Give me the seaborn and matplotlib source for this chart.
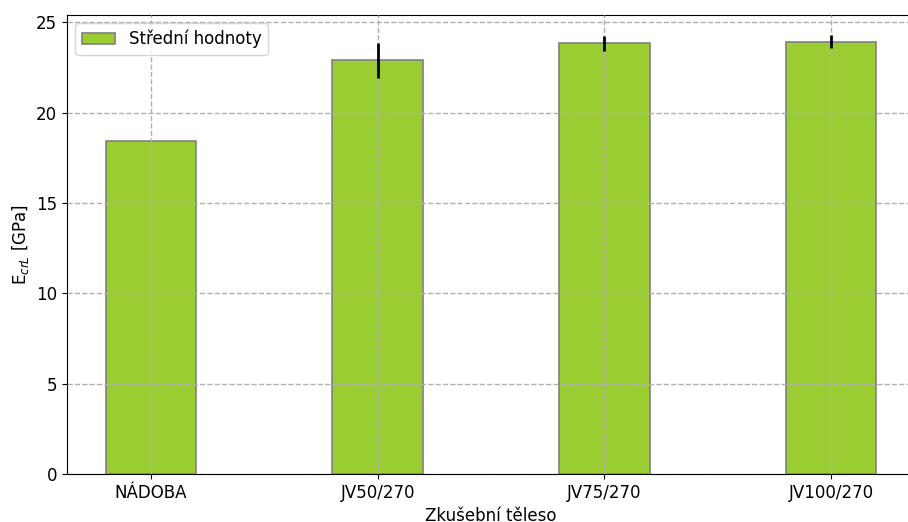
import matplotlib
matplotlib.use("Agg")
import matplotlib.pyplot as plt
import seaborn as sns
import numpy as np

categories = ["NÁDOBA", "JV50/270", "JV75/270", "JV100/270"]
means = [18.42, 22.90, 23.83, 23.92]
errors = [0.0, 0.97, 0.40, 0.36]

plt.rcParams['font.family'] = ['DejaVu Sans']
plt.rcParams['font.size'] = 12

fig = plt.figure(figsize=(9.08, 5.22), dpi=100)
ax = fig.add_axes([67/908, 48/522, (915-67)/908, (474-15)/522])

sns.barplot(x=categories, y=means, color="yellowgreen", edgecolor="gray",
            linewidth=1.2, width=0.4, errorbar=None, label="Střední hodnoty",
            saturation=1, ax=ax)
ax.errorbar(x=np.arange(len(categories)), y=means, yerr=errors, fmt="none",
            ecolor="black", elinewidth=2, capsize=0, zorder=4)

ax.grid(True, linestyle="--", color="#b0b0b0", linewidth=1)
ax.set_axisbelow(False)
ax.set_xlim(-0.37, 3.37)
ax.set_ylim(0, 25.4)
ax.set_yticks([0, 5, 10, 15, 20, 25])
ax.spines['right'].set_visible(False)
ax.set_xlabel("Zkušební těleso")
ax.set_ylabel("E$_{crL}$ [GPa]")
ax.legend(loc="upper left")

fig.savefig("out.png", dpi=100)
